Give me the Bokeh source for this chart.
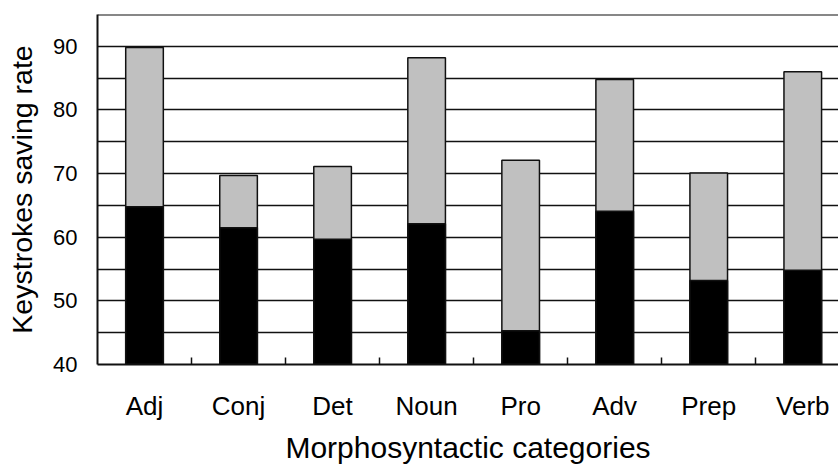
from bokeh.plotting import figure
from bokeh.models import FixedTicker, CustomJSTickFormatter, Span, Range1d, ColumnDataSource
from bokeh.embed import file_html
from bokeh.resources import INLINE

categories = ["Adj", "Conj", "Det", "Noun", "Pro", "Adv", "Prep", "Verb"]
lower_rate = [64.8, 61.5, 59.7, 62.1, 45.3, 64.1, 53.2, 54.8]
upper_rate = [89.8, 69.7, 71.1, 88.2, 72.1, 84.8, 70.1, 86.0]
y_tick_values = [40, 50, 60, 70, 80, 90]
grid_values = [40, 45, 50, 55, 60, 65, 70, 75, 80, 85, 90, 95]

FONT = "Liberation Sans"

xs = [i + 0.5 for i in range(len(categories))]
boundaries = [i for i in range(1, len(categories))]

src = ColumnDataSource(dict(x=xs, cat=categories, low=lower_rate, up=upper_rate))

p = figure(width=838, height=466, output_backend="svg", toolbar_location=None,
           x_range=Range1d(0, 7.88), y_range=Range1d(40, 95),
           min_border_left=97, min_border_right=0, min_border_top=14, min_border_bottom=102)
p.outline_line_color = None
p.background_fill_color = "white"
p.border_fill_color = "white"

# bars
p.vbar(x="x", width=0.4, bottom=40, top="up", source=src, fill_color="#C0C0C0",
       line_color="#111111", line_width=1.5)
p.vbar(x="x", width=0.4, bottom=40, top="low", source=src, fill_color="black",
       line_color="#111111", line_width=1.5)

# grid
p.xgrid.visible = False
p.ygrid.ticker = FixedTicker(ticks=grid_values)
p.ygrid.grid_line_color = "#111111"
p.ygrid.grid_line_width = 1.5

top_line = Span(location=95, dimension="width", line_color="#111111", line_width=2)
p.add_layout(top_line)

# y axis
p.yaxis.ticker = FixedTicker(ticks=y_tick_values)
p.yaxis.axis_line_color = "#111111"
p.yaxis.axis_line_width = 2
p.yaxis.major_tick_line_color = None
p.yaxis.minor_tick_line_color = None
p.yaxis.major_tick_out = 0
p.yaxis.major_tick_in = 0
p.yaxis.major_label_standoff = 20
p.yaxis.major_label_text_font = FONT
p.yaxis.major_label_text_font_size = "22px"
p.yaxis.major_label_text_color = "black"
p.yaxis.axis_label = "Keystrokes saving rate"
p.yaxis.axis_label_text_font = FONT
p.yaxis.axis_label_text_font_size = "28.5px"
p.yaxis.axis_label_text_font_style = "normal"
p.yaxis.axis_label_text_color = "black"
p.yaxis.axis_label_standoff = 12

# x axis
p.xaxis.ticker = FixedTicker(ticks=xs, minor_ticks=boundaries)
p.xaxis.formatter = CustomJSTickFormatter(args=dict(cats=categories),
                                          code="const i = Math.round(tick - 0.5); return (i >= 0 && i < cats.length) ? cats[i] : '';")
p.xaxis.axis_line_color = "#111111"
p.xaxis.axis_line_width = 2
p.xaxis.major_tick_line_color = None
p.xaxis.major_tick_in = 0
p.xaxis.major_tick_out = 0
p.xaxis.minor_tick_line_color = "#111111"
p.xaxis.minor_tick_line_width = 1.5
p.xaxis.minor_tick_in = 7
p.xaxis.minor_tick_out = 0
p.xaxis.major_label_standoff = 26
p.xaxis.major_label_text_font = FONT
p.xaxis.major_label_text_font_size = "26px"
p.xaxis.major_label_text_color = "black"
p.xaxis.axis_label = "Morphosyntactic categories"
p.xaxis.axis_label_text_font = FONT
p.xaxis.axis_label_text_font_size = "30px"
p.xaxis.axis_label_text_font_style = "normal"
p.xaxis.axis_label_text_color = "black"
p.xaxis.axis_label_standoff = 7

open("out.html", "w").write(file_html(p, INLINE))
